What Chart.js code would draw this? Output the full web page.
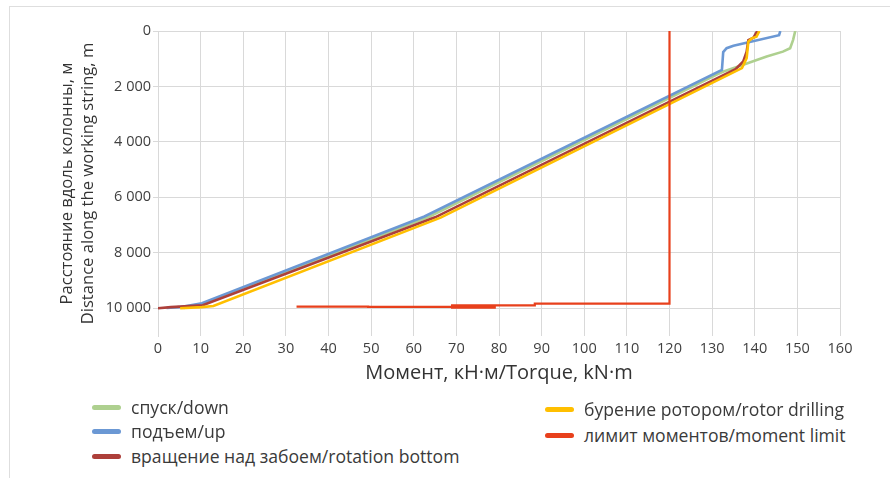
<!DOCTYPE html>
<html>
<head>
<meta charset="utf-8">
<script src="https://cdn.jsdelivr.net/npm/chart.js@4.4.0/dist/chart.umd.min.js"></script>
<style>
    body { margin: 0; background: #fff; font-family: "Open Sans", sans-serif; }
    #wrap { position: relative; width: 890px; height: 478px; overflow: hidden; }
    #frame { position: absolute; left: 9px; top: 6px; width: 900px; height: 500px; border: 1px solid #dedede; }
    #torqueChart { position: absolute; left: 0; top: 0; }
    .legend-item { position: absolute; display: flex; align-items: center; height: 24px; font-size: 17.6px; color: #3a3a3a; white-space: nowrap; }
    .legend-item .swatch { width: 29px; height: 5px; border-radius: 3px; margin-right: 10px; }
</style>
</head>
<body>
<div id="wrap">
    <div id="frame"></div>
    <canvas id="torqueChart" width="890" height="400"></canvas>
    <div id="legend"></div>
</div>
<script>
// глубина по колонне, м  /  момент, кН·м
const downTorque = [6, 11.2, 63.7, 131.2, 132.7, 137.3, 142.8, 146.6, 148.3, 149, 149.5];
const downDepth  = [9990, 9830, 6688, 1560, 1460, 1220, 920, 745, 620, 320, 0];

const upTorque = [2, 5, 10.3, 62.5, 132.3, 132.6, 133.4, 135, 145.7, 146];
const upDepth  = [9990, 9960, 9820, 6690, 1400, 760, 620, 530, 150, 0];

const rotationTorque = [0, 3, 5.2, 10.5, 65, 135.5, 137.3, 138.1, 138.5, 139.7, 140.6];
const rotationDepth  = [10000, 9960, 9940, 9890, 6720, 1380, 1100, 745, 330, 240, 0];

const drillingTorque = [5.2, 10.3, 13, 66.3, 137, 138.1, 138.5, 139.3, 140.4, 141.1];
const drillingDepth  = [10000, 9960, 9920, 6730, 1340, 980, 385, 265, 205, 0];

const limitTorque = [32.5, 49.3, 49.3, 69, 69, 79, 79, 69, 69, 88.4, 88.4, 120, 120];
const limitDepth  = [9940, 9940, 9950, 9950, 9975, 9975, 9900, 9900, 9895, 9895, 9835, 9835, 0];

const depthTicks = [0, 2000, 4000, 6000, 8000, 10000];
const torqueMin = 0, torqueMax = 160, torqueStep = 10;
const depthMax = 11000;

function toPoints(torque, depth) {
    return torque.map((t, i) => ({ x: t, y: depth[i] }));
}

// разделение тысяч пробелом: 10 000
function formatNumber(value) {
    return value.toString().replace(/\B(?=(\d{3})+(?!\d))/g, " ");
}

const series = [
    { key: "limit",    label: "лимит моментов/moment limit",         color: "#e8401c", width: 2.2, data: toPoints(limitTorque, limitDepth) },
    { key: "drilling", label: "бурение ротором/rotor drilling",      color: "#ffbf00", width: 2.6, data: toPoints(drillingTorque, drillingDepth) },
    { key: "rotation", label: "вращение над забоем/rotation bottom", color: "#ad3f3a", width: 2.6, data: toPoints(rotationTorque, rotationDepth) },
    { key: "up",       label: "подъем/up",                           color: "#6b98d4", width: 2.6, data: toPoints(upTorque, upDepth) },
    { key: "down",     label: "спуск/down",                          color: "#aed08f", width: 2.6, data: toPoints(downTorque, downDepth) }
];

const datasets = series.map(s => ({
    label: s.label,
    data: s.data,
    showLine: true,
    borderColor: s.color,
    backgroundColor: s.color,
    borderWidth: s.width,
    pointRadius: 0,
    tension: 0,
    fill: false
}));

const tickFont = { family: "'Open Sans', sans-serif", size: 14.5 };
const gridColor = "#d9d9d9";
const textColor = "#404040";

new Chart(document.getElementById("torqueChart"), {
    type: "scatter",
    data: { datasets: datasets },
    options: {
        responsive: false,
        animation: false,
        layout: { padding: { left: 0, top: 31, right: 50, bottom: 0 } },
        plugins: {
            legend: { display: false },
            tooltip: { enabled: false }
        },
        scales: {
            x: {
                type: "linear",
                min: torqueMin,
                max: torqueMax,
                ticks: { stepSize: torqueStep, font: tickFont, color: textColor, padding: 4 },
                grid: { color: gridColor, drawTicks: false },
                border: { display: false },
                title: {
                    display: true,
                    text: "Момент, кН·м/Torque, kN·m",
                    font: { family: "'Open Sans', sans-serif", size: 20 },
                    color: "#333",
                    padding: { top: 0, bottom: 15 }
                },
                afterFit(scale) {
                    scale.height = 64;
                    scale.paddingLeft = 0;
                    scale.paddingRight = 0;
                }
            },
            y: {
                type: "linear",
                reverse: true,
                min: 0,
                max: depthMax,
                afterBuildTicks(scale) {
                    scale.ticks = depthTicks.map(v => ({ value: v }));
                },
                ticks: {
                    font: tickFont,
                    color: textColor,
                    padding: 2,
                    callback: v => formatNumber(v)
                },
                grid: { color: gridColor, tickLength: 5 },
                border: { color: gridColor },
                title: {
                    display: true,
                    text: ["Расстояние вдоль колонны, м", "Distance along the working string, m"],
                    font: { family: "'Open Sans', sans-serif", size: 16.6, lineHeight: 1.3 },
                    color: "#333",
                    padding: { top: 56, bottom: 0 }
                },
                afterFit(scale) {
                    scale.width = 158;
                    scale.paddingTop = 0;
                    scale.paddingBottom = 0;
                }
            }
        }
    }
});

// легенда в две колонки
const legendSlots = {
    down:     { left: 92,  top: 395 },
    up:       { left: 92,  top: 419 },
    rotation: { left: 92,  top: 444 },
    drilling: { left: 545, top: 397 },
    limit:    { left: 545, top: 423 }
};
const legendEl = document.getElementById("legend");
series.forEach(s => {
    const slot = legendSlots[s.key];
    const item = document.createElement("div");
    item.className = "legend-item";
    item.style.left = slot.left + "px";
    item.style.top = slot.top + "px";
    item.innerHTML = `<span class="swatch" style="background:${s.color}"></span><span>${s.label}</span>`;
    legendEl.appendChild(item);
});
</script>
</body>
</html>
